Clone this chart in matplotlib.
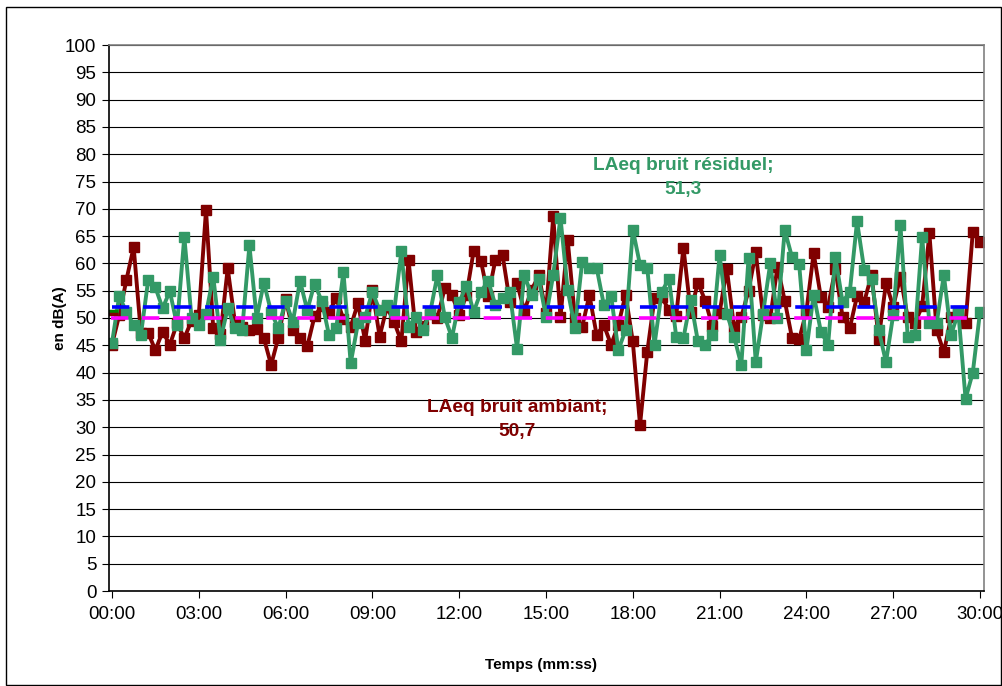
import matplotlib.pyplot as plt
from matplotlib.patches import Rectangle
import numpy as np

plt.rcParams['font.family'] = ['Liberation Sans', 'DejaVu Sans']

# one value every 15 s, 00:00 -> 30:00
ambiant = [45.1, 50.5, 57.0, 63.0, 47.2, 47.3, 44.1, 47.5, 45.1, 49.0,
           46.3, 49.5, 50.5, 69.8, 48.1, 47.0, 59.1, 49.2, 48.3, 47.8,
           48.0, 46.3, 41.4, 46.4, 53.5, 47.8, 46.3, 44.8, 50.3, 52.2,
           51.1, 53.6, 49.8, 48.4, 52.7, 45.8, 55.1, 46.6, 52.0, 49.3,
           45.7, 60.6, 47.5, 48.5, 50.8, 50.0, 55.5, 54.2, 50.6, 54.2,
           62.3, 60.5, 54.0, 60.6, 61.5, 53.0, 56.4, 51.3, 55.1, 57.8,
           51.0, 68.6, 50.1, 64.3, 50.0, 48.4, 54.2, 46.9, 48.7, 45.1,
           48.7, 54.3, 45.7, 30.4, 43.8, 53.6, 53.8, 51.5, 50.4, 62.9,
           51.1, 56.5, 53.2, 48.5, 51.0, 59.0, 48.3, 50.2, 55.0, 62.0,
           50.5, 50.0, 59.4, 53.2, 46.4, 46.1, 51.2, 61.9, 53.8, 52.1,
           59.0, 50.2, 48.2, 54.0, 53.0, 57.9, 46.2, 56.4, 52.1, 57.6,
           50.1, 49.0, 52.2, 65.5, 47.8, 43.7, 50.2, 51.2, 49.0, 65.8,
           64.0]
residuel = [45.4, 54.0, 51.1, 48.7, 46.9, 56.9, 55.6, 51.8, 54.9, 48.7,
            64.9, 50.0, 48.7, 50.8, 57.6, 46.0, 51.8, 48.1, 47.8, 63.3,
            50.0, 56.5, 51.1, 48.1, 53.1, 49.3, 56.8, 51.4, 56.3, 53.1,
            46.9, 48.1, 58.4, 41.7, 49.0, 50.2, 54.8, 51.4, 52.4, 51.1,
            62.2, 48.4, 50.2, 47.8, 51.1, 57.9, 50.2, 46.4, 52.9, 55.9,
            51.1, 54.8, 56.8, 52.4, 53.6, 54.7, 44.4, 57.9, 54.2, 57.2,
            50.2, 57.9, 68.4, 55.1, 48.2, 60.3, 59.1, 59.2, 52.4, 54.1,
            44.1, 47.8, 66.2, 59.7, 59.2, 45.1, 54.8, 57.2, 46.6, 46.3,
            53.3, 45.7, 45.1, 46.9, 61.5, 50.8, 46.6, 41.4, 61.0, 41.9,
            50.8, 60.0, 50.0, 66.1, 61.2, 59.8, 44.1, 54.3, 47.5, 45.1,
            61.2, 52.9, 54.8, 67.7, 58.8, 57.2, 47.8, 41.9, 50.6, 67.0,
            46.6, 46.9, 64.9, 49.0, 49.0, 57.9, 46.9, 51.1, 35.2, 40.0,
            51.1]
laeq_ambiant = 50.7
laeq_residuel = 51.3
limite_haute = 52
limite_basse = 50
tick_labels = ['00:00', '03:00', '06:00', '09:00', '12:00', '15:00',
               '18:00', '21:00', '24:00', '27:00', '30:00']

red = '#800000'
green = '#339966'
n = len(ambiant)
x = np.arange(n)

fig = plt.figure(figsize=(10.03, 6.86), dpi=100)
ax = fig.add_axes([109/1003, 1-591/686, 875/1003, 546/686])

ax.set_ylim(0, 100)
ax.set_xlim(-0.41, n - 1 + 0.55)
ax.set_yticks(np.arange(0, 101, 5))
ax.grid(axis='y', color='black', lw=0.8)
ax.set_axisbelow(True)

ax.plot(x, ambiant, color=red, lw=2.8, marker='s', ms=7)
ax.plot(x, residuel, color=green, lw=2.8, marker='s', ms=7)
ax.plot([-0.5, 0.8], [laeq_residuel]*2, color='#008000', lw=2.5, solid_capstyle='butt')
ax.plot([-0.5, 0.8], [laeq_ambiant]*2, color=red, lw=2.5, solid_capstyle='butt')

# dashed reference lines sit on top of the series
ax.plot([0, n - 1], [limite_haute]*2, color='#0000ff', lw=2.6, dashes=(4.8, 3.8), zorder=5)
ax.plot([-0.2, n - 1], [limite_basse]*2, color='#ff00ff', lw=2.6, dashes=(4.8, 3.8), zorder=5)

ax.text(79, 75.8, 'LAeq bruit résiduel;\n%s' % str(laeq_residuel).replace('.', ','),
        color=green, fontsize=13.8, fontweight='bold', ha='center', va='center',
        linespacing=1.55, zorder=6)
ax.text(56, 31.4, 'LAeq bruit ambiant;\n%s' % str(laeq_ambiant).replace('.', ','),
        color=red, fontsize=13.8, fontweight='bold', ha='center', va='center',
        linespacing=1.55, zorder=6)

ax.set_xticks(np.arange(0, n, 12))
ax.set_xticklabels(tick_labels)
ax.tick_params(axis='both', labelsize=13.5, length=5, width=0.8, direction='out')
ax.tick_params(axis='x', pad=6)
ax.tick_params(axis='y', pad=4)

for s in ['left', 'bottom']:
    ax.spines[s].set_color('black')
    ax.spines[s].set_linewidth(1.2)
for s in ['right', 'top']:
    ax.spines[s].set_color('#808080')
    ax.spines[s].set_linewidth(1.2)

fig.text(60/1003, 1-318/686, 'en dB(A)', rotation=90, fontsize=11,
         fontweight='bold', ha='center', va='center')
fig.text(541/1003, 1-665/686, 'Temps (mm:ss)', fontsize=11,
         fontweight='bold', ha='center', va='center')

fig.patches.append(Rectangle((6/1003, 1/686), 995/1003, 678/686,
                             transform=fig.transFigure, fill=False,
                             edgecolor='black', lw=1))

fig.savefig('out.png', dpi=100)
